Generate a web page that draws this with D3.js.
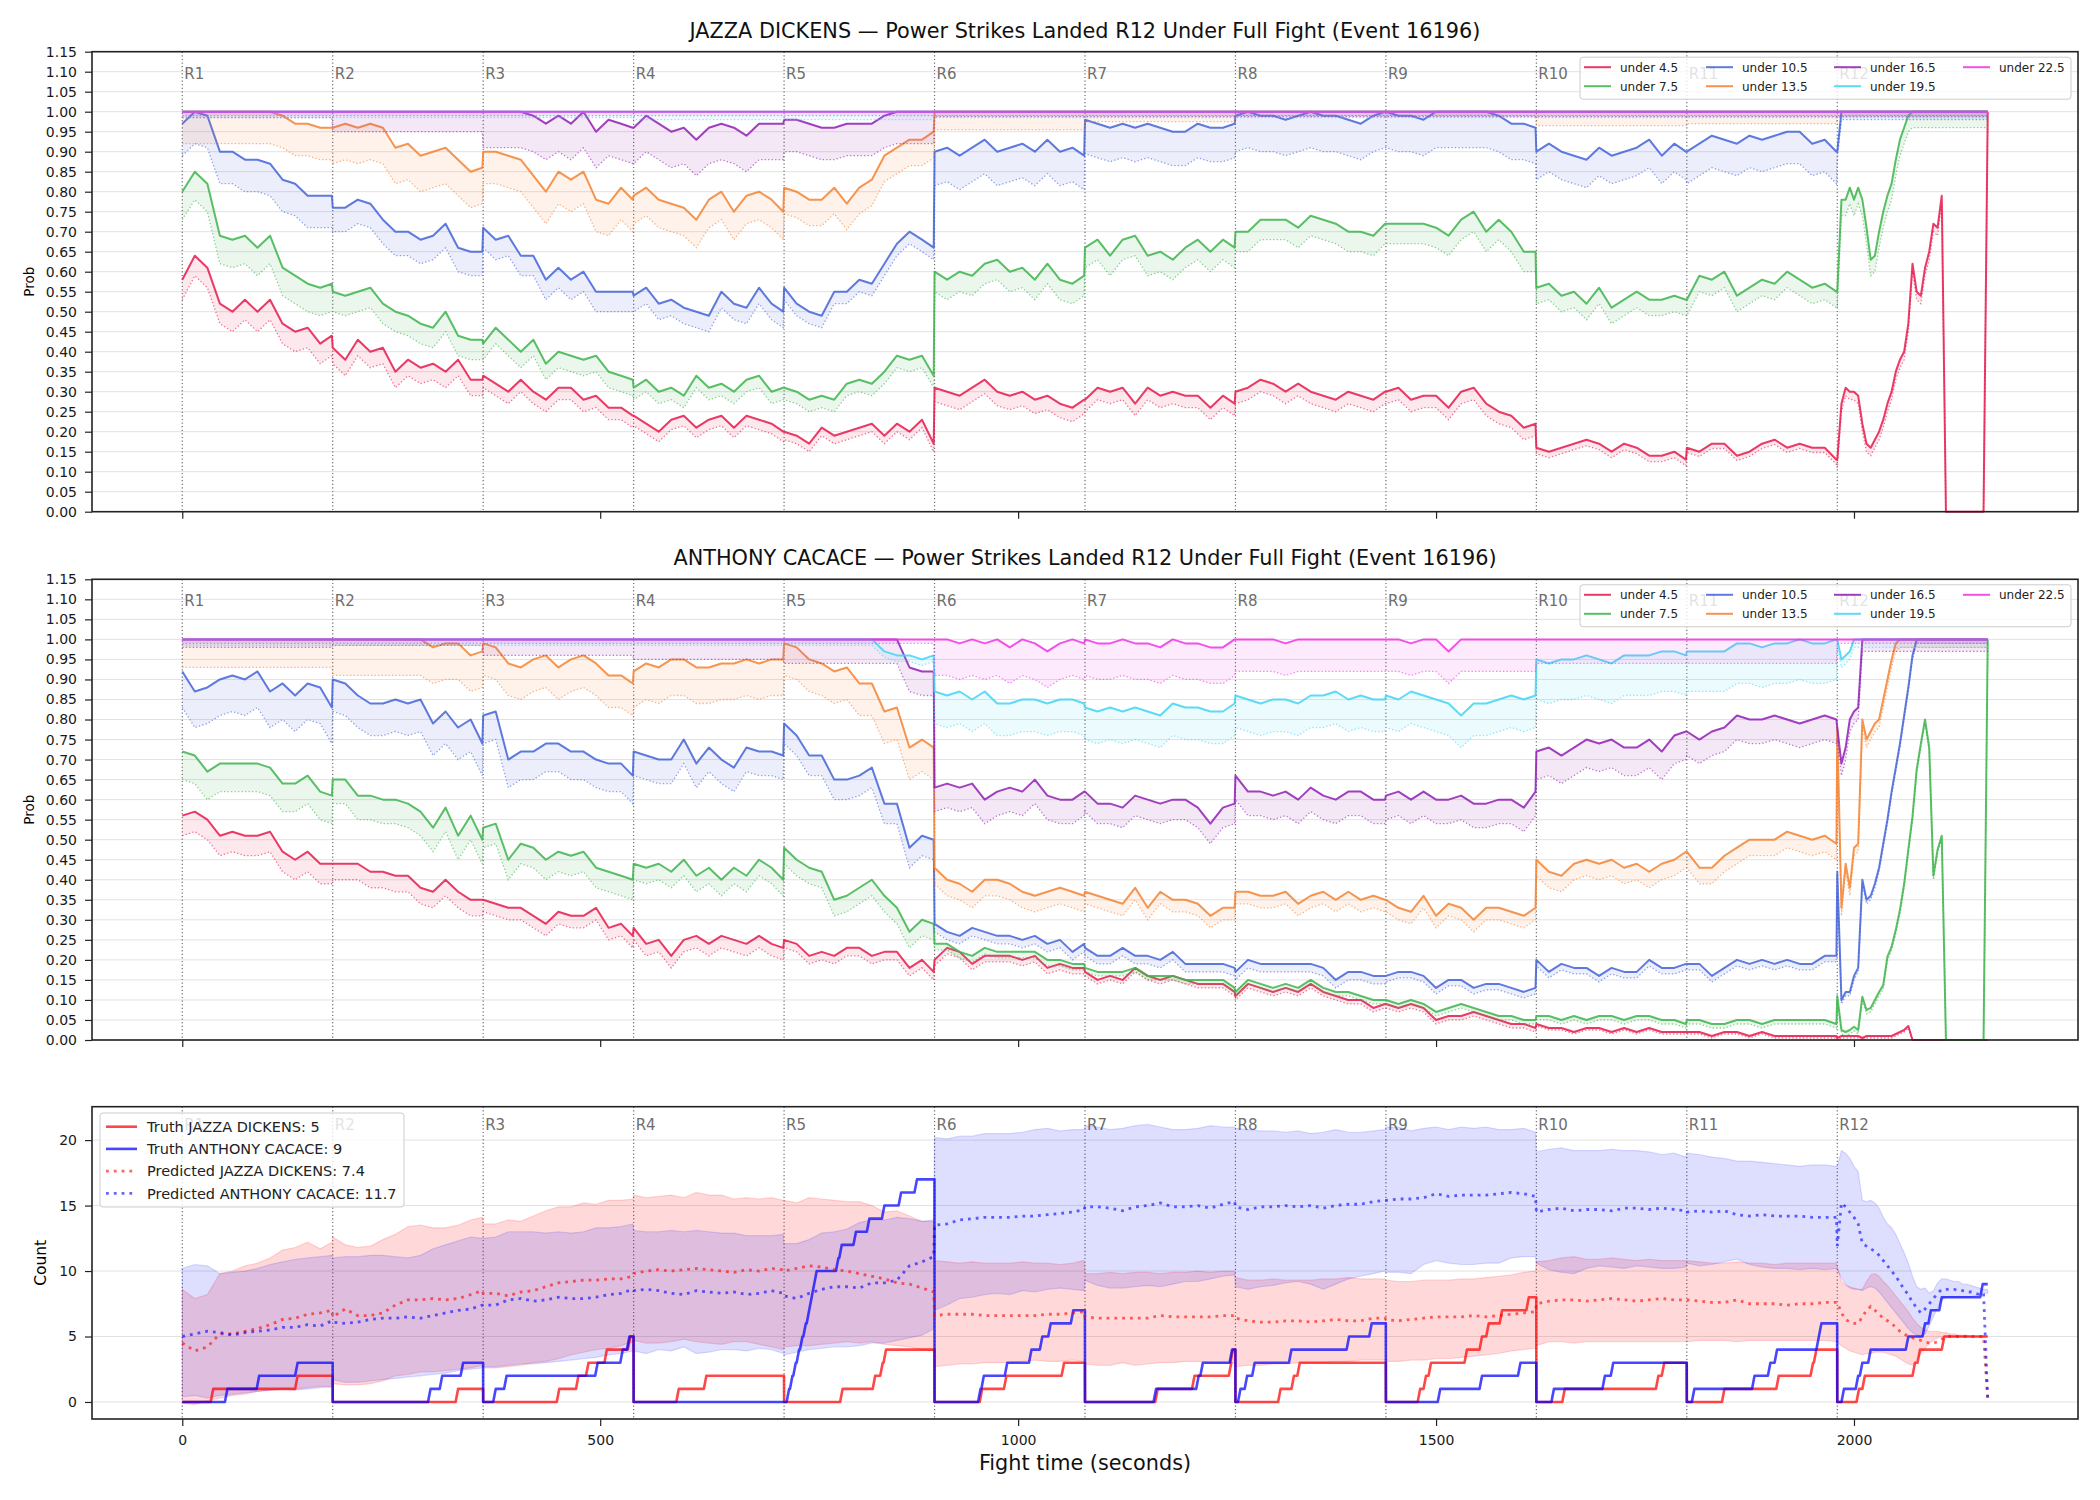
<!DOCTYPE html>
<html>
<head>
<meta charset="utf-8">
<script src="https://cdn.jsdelivr.net/npm/d3@7"></script>
<style>
  body { margin: 0; background: #fff; }
  text { font-family: "DejaVu Sans", sans-serif; }
</style>
</head>
<body>
<script>
// ---- sampling grid: rounds 1-11 every 15 s (+ last second), round 12 every 5 s
var roundLen = 180;
var roundOffsets = [0, 15, 30, 45, 60, 75, 90, 105, 120, 135, 150, 165, 179];
var lastRoundOffsets = [0,5,10,15,20,25,30,35,40,45,50,55,60,65,70,75,80,85,90,95,100,105,110,115,120,125,130,135,140,145,150,155,160,165,170,175,180];
var roundNames = ["R1","R2","R3","R4","R5","R6","R7","R8","R9","R10","R11","R12"];

var lineNames = ["under 4.5", "under 7.5", "under 10.5", "under 13.5", "under 16.5", "under 19.5", "under 22.5"];
var lineColors = ["#e6194b", "#3cb44b", "#4363d8", "#f58231", "#911eb4", "#42d4f4", "#f032e6"];

// ---- JAZZA DICKENS panel, solid lines (percent), one row per round
var dkRed = [
 [58,64,61,52,50,53,50,53,47,45,46,42,44],
 [41,38,43,40,41,35,38,36,37,35,38,33,33],
 [34,32,30,33,30,28,31,31,28,29,26,26,24],
 [24,22,20,23,24,21,23,24,21,24,23,22,20],
 [20,19,17,21,19,20,21,22,19,22,20,23,17],
 [31,30,29,31,33,30,29,30,28,29,27,26,28],
 [28,31,30,31,27,31,29,30,29,29,26,29,27],
 [30,31,33,32,30,32,30,29,28,30,29,28,30],
 [30,31,28,29,29,26,30,31,27,25,24,21,22],
 [16,15,16,17,18,17,15,17,16,14,14,15,13],
 [16,15,17,17,14,15,17,18,16,17,16,16,13],
 [13,27,31,30,30,29,22,17,16,18,20,23,27,30,35,38,40,47,62,55,54,61,65,72,71,79,0,0,0,0,0,0,0,0,0,0,100]
];
var dkGreen = [
 [80,85,82,69,68,69,66,69,61,59,57,56,57],
 [55,54,55,56,52,50,49,47,46,50,44,43,43],
 [42,46,43,40,43,37,40,39,38,39,35,34,33],
 [31,33,30,31,29,34,31,32,30,33,34,30,31],
 [31,30,28,29,28,32,33,32,35,39,38,39,34],
 [60,58,60,59,62,63,60,61,58,62,58,57,59],
 [66,68,64,68,69,64,65,63,66,68,65,68,66],
 [70,70,73,73,73,71,74,73,72,70,70,69,72],
 [72,72,72,72,71,69,73,75,70,73,70,65,65],
 [56,57,54,55,52,56,51,53,55,53,53,54,53],
 [53,59,58,60,54,56,58,57,60,58,56,57,55],
 [55,78,78,81,78,81,78,71,63,64,70,75,79,82,88,93,96,99,100,100,100,100,100,100,100,100,100,100,100,100,100,100,100,100,100,100,100]
];
var dkBlue = [
 [97,100,99,90,90,88,88,87,83,82,79,79,79],
 [76,76,78,77,73,70,70,68,69,72,66,65,65],
 [71,68,69,64,64,58,61,58,60,55,55,55,55],
 [54,56,52,53,51,50,49,55,52,51,56,52,50],
 [56,52,50,49,55,55,58,57,62,67,70,68,66],
 [90,91,89,91,93,90,91,92,90,93,90,91,89],
 [98,97,96,97,96,97,96,95,95,97,96,96,97],
 [99,100,99,99,98,99,100,99,99,98,97,99,100],
 [100,99,99,98,100,100,100,100,100,99,97,97,96],
 [90,92,90,89,88,91,89,90,91,93,89,92,90],
 [90,92,94,93,92,94,93,94,95,95,92,93,90],
 [90,100,100,100,100,100,100,100,100,100,100,100,100,100,100,100,100,100,100,100,100,100,100,100,100,100,100,100,100,100,100,100,100,100,100,100,100]
];
var dkOrange = [
 [100,100,100,100,100,100,100,100,99,97,97,96,96],
 [96,97,96,97,96,91,92,89,90,91,88,85,86],
 [90,90,89,88,84,80,85,83,85,78,77,81,78],
 [79,81,78,77,76,73,78,80,75,79,80,78,75],
 [81,80,78,78,81,77,81,83,89,91,93,93,95],
 [100,100,100,100,100,100,100,100,100,100,100,100,100],
 [100,100,100,100,100,100,100,100,100,100,100,100,100],
 [100,100,100,100,100,100,100,100,100,100,100,100,100],
 [100,100,100,100,100,100,100,100,100,100,100,100,100],
 [100,100,100,100,100,100,100,100,100,100,100,100,100],
 [100,100,100,100,100,100,100,100,100,100,100,100,100],
 [100,100,100,100,100,100,100,100,100,100,100,100,100,100,100,100,100,100,100,100,100,100,100,100,100,100,100,100,100,100,100,100,100,100,100,100,100]
];
var dkPurple = [
 [100,100,100,100,100,100,100,100,100,100,100,100,100],
 [100,100,100,100,100,100,100,100,100,100,100,100,100],
 [100,100,100,100,99,97,99,97,100,95,98,97,96],
 [96,99,97,95,96,93,96,97,96,94,97,97,97],
 [98,98,97,96,96,97,97,97,99,100,100,100,100],
 [100,100,100,100,100,100,100,100,100,100,100,100,100],
 [100,100,100,100,100,100,100,100,100,100,100,100,100],
 [100,100,100,100,100,100,100,100,100,100,100,100,100],
 [100,100,100,100,100,100,100,100,100,100,100,100,100],
 [100,100,100,100,100,100,100,100,100,100,100,100,100],
 [100,100,100,100,100,100,100,100,100,100,100,100,100],
 [100,100,100,100,100,100,100,100,100,100,100,100,100,100,100,100,100,100,100,100,100,100,100,100,100,100,100,100,100,100,100,100,100,100,100,100,100]
];
var dkCyan = [
 [100,100,100,100,100,100,100,100,100,100,100,100,100],
 [100,100,100,100,100,100,100,100,100,100,100,100,100],
 [100,100,100,100,100,100,100,100,100,100,100,100,100],
 [100,100,100,100,100,100,100,100,100,100,100,100,100],
 [100,100,100,100,100,100,100,100,100,100,100,100,100],
 [100,100,100,100,100,100,100,100,100,100,100,100,100],
 [100,100,100,100,100,100,100,100,100,100,100,100,100],
 [100,100,100,100,100,100,100,100,100,100,100,100,100],
 [100,100,100,100,100,100,100,100,100,100,100,100,100],
 [100,100,100,100,100,100,100,100,100,100,100,100,100],
 [100,100,100,100,100,100,100,100,100,100,100,100,100],
 [100,100,100,100,100,100,100,100,100,100,100,100,100,100,100,100,100,100,100,100,100,100,100,100,100,100,100,100,100,100,100,100,100,100,100,100,100]
];
var dkMagenta = dkCyan.map(function (r) { return r.slice(); }); // also flat at 1.0 all fight

// gap between solid line and its dotted partner, percent points per round
var dkGaps = [
 [5,4,3,2.5,2,3.5,3,3,3,1.5,1.2,2],
 [7,5,4,3,3,5,5,5,5,4,4,4],
 [8,6,5,4,3,8.5,8.5,9,9,7,8,2],
 [8,9,8,7,6.5,4.5,2.5,1,1,3.5,3,1],
 [1.5,5,9,9,8,1.2,1.2,1.2,1.2,1.2,1.2,1.2],
 [1.5,1.5,1.5,2,2,1.5,1.5,1.5,1.5,1.5,1.5,1.5],
 [1,1,1,1,1,1,1,1,1,1,1,1]
];

// ---- ANTHONY CACACE panel
var acRed = [
 [56,57,55,51,52,51,51,52,47,45,47,44,44],
 [44,44,44,42,42,41,41,38,37,40,37,35,35],
 [35,34,33,33,31,29,32,31,31,33,28,29,26],
 [28,24,25,21,25,26,24,26,25,24,26,24,23],
 [25,24,21,22,21,23,23,21,22,22,18,20,17],
 [20,23,22,19,21,21,21,20,21,18,19,18,18],
 [17,15,16,15,18,16,15,16,15,14,14,14,12],
 [11,14,13,12,13,12,14,12,11,10,10,8,9],
 [9,8,9,8,5,6,6,7,6,5,4,4,3],
 [4,3,3,2,3,3,2,3,2,3,2,2,2],
 [2,2,1,2,2,1,2,1,1,1,1,1,1],
 [0.5,1,1,1,1,1,0.5,1,1,1,1,1,1,1,1.5,2,2.5,3.5,0,0,0,0,0,0,0,0,0,0,0,0,0,0,0,0,0,0,0]
];
var acGreen = [
 [72,71,67,69,69,69,69,68,64,64,66,62,61],
 [65,65,61,61,60,60,59,57,53,58,51,56,50],
 [53,54,45,49,48,45,47,46,47,43,42,41,40],
 [44,43,44,42,45,41,43,40,43,41,45,43,40],
 [48,45,43,42,35,36,38,40,36,33,27,30,29],
 [24,24,22,21,23,22,22,22,22,20,20,19,19],
 [18,17,17,17,18,16,16,16,15,15,15,15,13],
 [12,15,14,13,14,13,15,13,12,12,11,10,10],
 [10,9,10,9,7,8,9,8,7,6,6,5,5],
 [6,6,5,6,5,6,6,5,6,6,5,5,4],
 [5,5,4,4,5,5,4,5,5,5,5,5,4],
 [11,2.5,2,2.5,3.3,2.5,10.8,7.5,8,10,12,13.7,20.8,23.3,27.5,32.5,39,47.5,55.8,67.5,74,80,73,41,47.5,51,0,0,0,0,0,0,0,0,0,0,100]
];
var acBlue = [
 [92,87,88,90,91,90,92,87,89,86,89,88,83],
 [90,89,86,84,84,85,84,85,79,82,78,80,74],
 [81,82,70,72,72,74,74,72,72,70,69,69,66],
 [72,71,70,70,75,69,73,70,68,73,72,72,71],
 [79,76,71,71,65,65,66,68,59,59,48,51,50],
 [29,27,26,28,27,26,26,25,26,24,25,22,24],
 [23,21,21,23,21,21,20,22,19,19,19,19,18],
 [17,20,19,19,19,19,19,18,15,17,17,16,16],
 [16,17,17,16,13,15,15,13,14,14,13,12,13],
 [20,17,19,18,18,16,18,17,17,20,18,18,19],
 [19,19,16,18,20,19,20,19,20,19,19,21,21],
 [42,10,12,12,16,18,40,35,36,39,43,49,55,62,68,74,81,88,96,100,100,100,100,100,100,100,100,100,100,100,100,100,100,100,100,100,100]
];
var acOrange = [
 [100,100,100,100,100,100,100,100,100,100,100,100,100],
 [100,100,100,100,100,100,100,100,98,99,99,96,97],
 [99,98,94,93,95,96,93,95,96,94,91,91,89],
 [92,94,93,95,95,93,93,94,94,95,94,95,95],
 [99,98,95,94,92,93,89,89,82,83,73,75,73],
 [43,40,39,37,40,40,39,37,36,37,38,37,36],
 [37,36,35,34,38,33,37,35,35,34,31,33,33],
 [37,37,36,36,37,34,36,37,35,37,35,36,35],
 [35,33,32,36,31,34,33,30,33,33,32,31,33],
 [45,42,41,44,45,44,45,43,44,42,44,45,47],
 [47,43,43,46,48,50,50,50,52,51,50,51,49],
 [78,33,44,38,48,49,80,75,77,79,80,85,90,95,99,100,100,100,100,100,100,100,100,100,100,100,100,100,100,100,100,100,100,100,100,100,100]
];
var acPurple = [
 [100,100,100,100,100,100,100,100,100,100,100,100,100],
 [100,100,100,100,100,100,100,100,100,100,100,100,100],
 [100,100,100,100,100,100,100,100,100,100,100,100,100],
 [100,100,100,100,100,100,100,100,100,100,100,100,100],
 [100,100,100,100,100,100,100,100,100,100,93,92,92],
 [63,64,63,64,60,62,63,62,65,61,60,60,62],
 [62,59,59,58,61,60,59,60,60,58,54,58,59],
 [66,62,62,61,62,60,63,61,60,62,62,60,60],
 [61,62,60,62,60,60,61,59,59,60,60,58,62],
 [72,73,71,73,75,74,75,73,73,75,72,76,77],
 [77,75,77,78,81,80,80,81,80,79,80,81,80],
 [78,69,73,80,82,83,100,100,100,100,100,100,100,100,100,100,100,100,100,100,100,100,100,100,100,100,100,100,100,100,100,100,100,100,100,100,100]
];
var acCyan = [
 [100,100,100,100,100,100,100,100,100,100,100,100,100],
 [100,100,100,100,100,100,100,100,100,100,100,100,100],
 [100,100,100,100,100,100,100,100,100,100,100,100,100],
 [100,100,100,100,100,100,100,100,100,100,100,100,100],
 [100,100,100,100,100,100,100,100,97,96,96,95,96],
 [87,86,87,85,87,84,84,85,85,84,85,85,84],
 [83,82,83,82,83,82,81,84,83,83,82,82,84],
 [86,85,84,85,85,84,86,86,87,85,86,85,85],
 [86,85,87,86,85,84,81,84,84,85,86,85,86],
 [95,94,95,95,96,95,94,96,96,96,97,97,96],
 [97,97,97,97,99,99,98,99,99,100,99,99,100],
 [100,95,96,97,100,100,100,100,100,100,100,100,100,100,100,100,100,100,100,100,100,100,100,100,100,100,100,100,100,100,100,100,100,100,100,100,100]
];
var acMagenta = [
 [100,100,100,100,100,100,100,100,100,100,100,100,100],
 [100,100,100,100,100,100,100,100,100,100,100,100,100],
 [100,100,100,100,100,100,100,100,100,100,100,100,100],
 [100,100,100,100,100,100,100,100,100,100,100,100,100],
 [100,100,100,100,100,100,100,100,100,100,100,100,100],
 [100,100,99,100,99,100,98,100,99,97,99,100,99],
 [100,99,99,100,99,99,98,100,99,99,98,98,100],
 [100,100,100,100,99,100,100,100,100,100,100,100,100],
 [100,100,99,100,100,97,100,100,100,100,100,100,100],
 [100,100,100,100,100,100,100,100,100,100,100,100,100],
 [100,100,100,100,100,100,100,100,100,100,100,100,100],
 [100,100,100,100,100,100,100,100,100,100,100,100,100,100,100,100,100,100,100,100,100,100,100,100,100,100,100,100,100,100,100,100,100,100,100,100,100]
];
var acGaps = [
 [5,4,3,3,2,1.5,1,1,1,0.5,0.5,0.5],
 [7,6,5,4,4,1.5,1,1,1,1,1,1],
 [9,8,7,6,5,2,2,2,1.5,1.5,1.5,1],
 [7,9,8,9,8,4,3,3,3,4,4,2],
 [2,1.5,4,5,6,6,5,6,6,7,6,3],
 [1.5,1.5,1.5,1.5,1.5,8,8,8,8,10,10,2],
 [1,1,1,1,1,9,9,8,8,6,6,1]
];

// ---- count panel: predicted totals and their bands
var dkPred = [
 [4.5,3.9,4.2,5.2,5.2,5.4,5.6,5.9,6.3,6.4,6.7,6.8,7.0],
 [6.5,7.1,6.6,6.6,6.8,7.4,7.8,7.8,7.9,7.8,7.9,8.2,8.5],
 [8.3,8.3,8.1,8.4,8.5,8.8,9.1,9.2,9.3,9.3,9.4,9.4,9.6],
 [9.8,10.0,10.1,10.0,10.1,10.2,10.1,10.0,9.9,10.1,10.0,10.2,10.1],
 [10.0,10.2,10.4,10.3,10.1,10.0,9.8,9.6,9.4,9.1,9.0,8.7,8.4],
 [6.6,6.7,6.7,6.7,6.6,6.6,6.6,6.6,6.6,6.7,6.7,6.8,6.9],
 [6.5,6.4,6.4,6.4,6.4,6.4,6.6,6.5,6.5,6.5,6.5,6.6,6.6],
 [6.4,6.2,6.1,6.1,6.2,6.2,6.1,6.2,6.3,6.2,6.2,6.4,6.4],
 [6.3,6.2,6.3,6.4,6.5,6.5,6.5,6.6,6.5,6.6,6.7,6.8,6.9],
 [7.5,7.7,7.8,7.8,7.7,7.8,7.9,7.8,7.7,7.8,7.9,7.8,7.8],
 [7.8,7.7,7.6,7.6,7.8,7.5,7.5,7.5,7.4,7.5,7.5,7.6,7.6],
 [7.6,6.8,6.3,6.1,6.0,6.0,6.5,7.0,7.3,7.0,6.7,6.4,6.2,6.0,5.7,5.4,5.2,5.0,4.9,4.8,4.7,4.6,4.5,4.5,4.6,4.8,5.0,5.0,5.0,5.0,5.0,5.0,5.0,5.0,5.0,5.0,0.2]
];
var dkHi = [
 [8.6,7.9,8.2,9.8,10.0,10.4,10.6,11.0,11.6,11.8,12.2,11.7,12.2],
 [12.6,12.0,11.8,11.9,12.4,12.8,13.4,13.5,13.3,13.3,13.5,13.9,14.1],
 [13.6,13.6,13.9,13.8,14.2,14.6,14.9,14.9,15.2,15.1,15.4,15.4,15.5],
 [15.8,15.6,15.7,15.8,15.6,16.0,15.8,15.8,15.5,15.6,15.5,15.6,15.4],
 [15.4,15.2,15.6,15.5,15.4,15.3,15.3,15.0,14.5,14.6,14.2,13.8,13.8],
 [10.8,10.7,10.6,10.7,10.6,10.6,10.6,10.7,10.6,10.6,10.5,10.6,10.8],
 [9.8,9.8,9.9,9.8,9.9,9.9,9.8,9.9,9.9,10.0,9.9,10.0,10.0],
 [9.5,9.3,9.3,9.4,9.3,9.3,9.3,9.4,9.4,9.5,9.4,9.4,9.4],
 [9.3,9.2,9.2,9.3,9.3,9.3,9.4,9.4,9.5,9.6,9.7,9.9,10.0],
 [10.7,10.8,11.0,11.1,10.9,10.9,11.0,10.9,10.8,10.9,10.8,10.8,10.8],
 [10.8,10.7,10.6,10.6,10.7,10.6,10.6,10.5,10.6,10.6,10.6,10.6,10.6],
 [10.4,9.2,8.9,8.8,8.7,8.6,8.6,9.2,9.7,9.8,9.6,9.2,8.9,8.5,8.1,7.7,7.3,6.9,6.4,6.0,5.7,5.5,5.4,5.4,5.4,5.3,5.3,5.2,5.2,5.1,5.1,5.1,5.0,5.0,5.0,5.0,5.0]
];
var dkLo = [
 [-0.1,-0.2,0.1,0.3,0.5,0.6,0.8,0.9,1.0,1.0,1.1,1.2,1.1],
 [1.4,1.3,1.3,1.4,1.6,2.0,2.1,2.3,2.3,2.4,2.5,2.6,2.8],
 [2.6,2.6,2.7,2.8,3.0,3.1,3.3,3.6,3.8,4.0,4.1,4.3,4.6],
 [4.7,4.5,4.5,4.6,4.8,4.6,4.5,4.4,4.6,4.6,4.4,4.2,4.0],
 [4.2,4.3,4.3,4.4,4.5,4.6,4.5,4.6,4.4,4.3,4.2,4.0,3.9],
 [2.7,2.8,2.9,2.9,3.0,3.0,3.0,3.1,3.2,3.1,3.1,3.2,3.1],
 [2.9,2.8,2.8,3.0,2.8,2.9,3.0,3.0,3.1,3.1,3.0,3.0,3.0],
 [2.7,2.8,2.8,2.9,2.9,3.0,3.0,3.0,3.1,3.1,3.2,3.2,3.2],
 [3.1,3.1,3.2,3.2,3.3,3.3,3.4,3.5,3.6,3.7,3.9,4.0,4.1],
 [4.3,4.6,4.6,4.5,4.6,4.6,4.6,4.6,4.6,4.6,4.6,4.6,4.6],
 [4.6,4.7,4.7,4.7,4.6,4.7,4.7,4.7,4.7,4.7,4.7,4.7,4.6],
 [4.6,4.3,4.1,3.9,3.8,3.7,3.6,3.7,3.7,3.8,3.8,3.8,3.7,3.6,3.5,3.3,3.1,2.9,2.8,3.2,3.7,4.1,4.5,4.7,4.9,5.0,5.0,5.0,5.0,5.0,5.0,5.0,5.0,5.0,5.0,5.0,5.0]
];
var acPred = [
 [5.0,5.2,5.4,5.3,5.1,5.3,5.4,5.5,5.7,5.7,5.9,5.8,6.2],
 [6.1,6.0,6.1,6.3,6.4,6.4,6.5,6.4,6.6,6.8,7.0,7.1,7.4],
 [7.4,7.4,7.8,7.9,7.7,7.8,8.0,7.9,7.9,8.0,8.2,8.3,8.6],
 [8.5,8.6,8.5,8.3,8.2,8.5,8.4,8.3,8.4,8.2,8.3,8.5,8.3],
 [8.1,7.9,8.3,8.6,8.8,8.8,8.7,9.1,9.1,9.3,10.4,10.7,11.1],
 [13.5,13.6,13.9,14.0,14.1,14.1,14.1,14.2,14.2,14.3,14.4,14.5,14.7],
 [14.9,14.9,14.8,14.6,14.9,15.0,15.2,14.9,14.9,15.0,14.8,15.1,15.3],
 [14.9,14.7,14.9,14.9,15.0,14.9,15.0,14.8,15.0,15.1,15.1,15.3,15.4],
 [15.4,15.5,15.5,15.6,15.9,15.7,15.8,15.8,15.8,15.9,16.0,15.9,15.7],
 [14.5,14.7,14.8,14.6,14.7,14.7,14.6,14.8,14.8,14.7,14.8,14.7,14.6],
 [14.5,14.6,14.5,14.6,14.3,14.2,14.3,14.2,14.2,14.2,14.1,14.1,14.1],
 [11.9,15.2,14.9,14.5,14.1,13.6,12.1,11.9,11.7,11.5,11.2,10.8,10.4,10.0,9.6,9.1,8.6,8.2,7.6,7.2,6.8,7.1,7.5,7.9,8.3,8.6,8.6,8.6,8.6,8.5,8.5,8.4,8.4,8.3,8.2,8.3,0.2]
];
var acHi = [
 [10.2,10.5,10.4,9.8,9.9,10.0,10.2,10.5,10.7,10.9,11.0,11.1,11.2],
 [11.0,11.1,11.1,11.2,11.2,11.1,11.0,11.2,11.7,12.0,12.3,12.6,12.5],
 [12.5,12.6,13.0,13.0,13.0,12.9,13.0,12.9,13.0,13.3,13.3,13.4,13.6],
 [13.1,13.0,13.0,13.1,13.0,13.1,13.0,12.9,12.9,12.7,12.7,12.7,12.8],
 [12.1,12.1,12.4,12.9,13.0,13.2,13.7,13.9,13.9,14.1,14.0,13.8,13.9],
 [20.2,20.1,20.3,20.3,20.5,20.5,20.5,20.6,20.8,20.9,20.7,20.8,20.8],
 [21.1,21.0,20.8,20.9,21.1,21.2,21.0,20.8,20.8,20.9,21.1,21.0,21.0],
 [20.9,20.8,20.7,20.7,20.6,20.7,20.5,20.6,20.8,20.6,20.6,20.7,20.8],
 [21.0,21.0,20.7,20.9,21.0,20.8,21.0,20.9,21.0,20.8,20.8,20.9,20.6],
 [19.1,19.3,19.4,19.2,19.2,19.2,19.3,19.2,19.2,19.1,18.9,19.0,18.7],
 [19.0,18.9,18.7,18.6,18.4,18.4,18.3,18.2,18.1,18.0,18.1,18.1,18.0],
 [18.0,19.2,19.0,18.6,18.0,17.6,15.4,15.3,15.4,15.2,14.8,14.1,13.6,13.3,12.8,12.1,11.4,10.6,9.6,8.8,8.6,8.7,8.3,8.5,9.1,9.4,9.4,9.3,9.2,9.2,9.0,9.0,8.9,8.8,8.7,8.6,8.6]
];
var acLo = [
 [0.4,0.5,0.3,0.5,0.6,0.7,0.8,0.9,1.0,0.9,1.0,1.1,1.2],
 [1.7,1.5,1.5,1.6,1.7,1.8,1.9,2.0,2.1,2.2,2.4,2.5,2.6],
 [2.7,2.7,2.8,2.9,2.9,3.0,3.1,3.2,3.3,3.4,3.6,3.7,3.9],
 [3.9,3.7,4.0,3.9,4.2,3.7,3.8,4.0,4.0,3.9,4.1,4.0,3.7],
 [3.6,3.8,4.0,4.1,4.2,4.2,4.3,4.5,4.5,4.7,4.9,5.1,5.6],
 [7.0,7.4,7.9,8.0,8.2,8.3,8.2,8.5,8.4,8.6,8.7,8.6,8.5],
 [9.3,8.9,8.7,8.7,8.8,8.9,8.8,9.0,9.2,9.2,9.4,9.6,9.7],
 [8.8,8.6,8.8,8.9,9.1,9.2,9.0,8.6,9.0,9.4,9.6,9.8,10.0],
 [9.9,9.9,9.8,10.5,10.8,10.6,10.5,10.5,10.6,10.6,11.0,11.1,11.1],
 [10.6,10.1,9.9,9.8,10.2,10.4,10.3,10.2,10.4,10.3,10.2,10.2,10.3],
 [10.6,10.4,10.5,10.7,10.9,10.5,10.3,10.2,10.2,10.1,10.2,10.1,10.2],
 [10.1,9.5,9.0,8.7,8.6,8.6,8.5,8.7,8.8,8.7,8.4,8.0,7.6,7.2,6.8,6.4,6.0,5.6,5.3,5.1,5.0,5.2,5.8,6.5,7.2,7.8,8.0,8.0,8.0,8.0,8.0,8.0,8.0,8.1,8.2,8.3,8.3]
];

// truth: times (s) at which each fighter landed a power strike, per round
var dkHits = [[37,138],[330],[451,474,486,508,536],[594,627],[790,829,838,842],
  [957,986,1055],[1167,1211,1255,1257],[1314,1330,1337],
  [1481,1488,1494,1537,1555,1563,1579,1611],[1654,1766,1773],[1845,1910,1951,1955],
  [2006,2013,2073,2079,2108]];
var acHits = [[54,92,138],[297,311,336],[375,388,497,527,535],[],
  [726,730,734,738,742,746,750,753,756,759,785,789,806,822,840,860,879],
  [955,959,987,1016,1029,1039,1066],[1165,1216,1221,1256],[1266,1274,1283,1327,1396,1423],
  [1505,1555,1601],[1641,1702,1712],[1809,1881,1900,1908,1958,1961],
  [1988,2005,2010,2020,2065,2085,2092,2105,2154]];

var countLegend = ["Truth JAZZA DICKENS: 5", "Truth ANTHONY CACACE: 9",
  "Predicted JAZZA DICKENS: 7.4", "Predicted ANTHONY CACACE: 11.7"];

// ---------------------------------------------------------------
var W = 2100, H = 1500;
var svg = d3.select("body").append("svg").attr("width", W).attr("height", H);
svg.append("rect").attr("width", W).attr("height", H).attr("fill", "#fff");

var times = [];
roundNames.forEach(function (n, r) {
  (r < 11 ? roundOffsets : lastRoundOffsets).forEach(function (o) { times.push(r * roundLen + o); });
});
function roundOf(j) { return j < 143 ? Math.floor(j / 13) : 11; }

var problems = [];
function flat(name, arr) {
  var f = [].concat.apply([], arr);
  if (f.length !== times.length) problems.push(name + ":" + f.length);
  return f;
}

var x = d3.scaleLinear().domain([-108, 2268]).range([92, 2078]);
var panels = [{ top: 51.7, bottom: 511.7 }, { top: 579.3, bottom: 1040 }, { top: 1106.7, bottom: 1419 }];
var roundStarts = roundNames.map(function (n, i) { return i * roundLen; });

function frameAndAxes(g, p, y, yTicks, fmt, showX) {
  g.append("g").attr("transform", "translate(" + x.range()[0] + ",0)")
    .call(d3.axisLeft(y).tickValues(yTicks).tickFormat(fmt).tickSize(7).tickPadding(8))
    .call(styleAxis);
  g.append("g").attr("transform", "translate(0," + p.bottom + ")")
    .call(d3.axisBottom(x).tickValues([0, 500, 1000, 1500, 2000])
      .tickFormat(showX ? d3.format("d") : "").tickSize(7).tickPadding(9))
    .call(styleAxis);
  g.append("rect").attr("x", x.range()[0]).attr("y", p.top)
    .attr("width", x.range()[1] - x.range()[0]).attr("height", p.bottom - p.top)
    .attr("fill", "none").attr("stroke", "#222").attr("stroke-width", 1.6);
}
function styleAxis(sel) {
  sel.select(".domain").remove();
  sel.selectAll(".tick line").attr("stroke", "#222").attr("stroke-width", 1.2);
  sel.selectAll(".tick text").attr("fill", "#1a1a1a").style("font-size", "14px")
    .style("font-family", "DejaVu Sans");
}
function gridAndRounds(g, p, y, yTicks, labelDy) {
  g.selectAll("line.grid").data(yTicks).join("line").attr("class", "grid")
    .attr("x1", x.range()[0]).attr("x2", x.range()[1])
    .attr("y1", function (d) { return y(d); }).attr("y2", function (d) { return y(d); })
    .attr("stroke", "#e2e2e2").attr("stroke-width", 1);
  g.selectAll("line.rnd").data(roundStarts).join("line").attr("class", "rnd")
    .attr("x1", function (d) { return x(d); }).attr("x2", function (d) { return x(d); })
    .attr("y1", p.top).attr("y2", p.bottom)
    .attr("stroke", "#555").attr("stroke-width", 1.2).attr("stroke-dasharray", "1.2,2.4")
    .attr("opacity", 0.85);
  g.selectAll("text.rnd").data(roundStarts).join("text").attr("class", "rnd")
    .attr("x", function (d) { return x(d) + 2; }).attr("y", p.top + labelDy)
    .attr("fill", "#6e6e6e").style("font-size", "15px")
    .text(function (d, i) { return roundNames[i]; });
}

var probTicks = d3.range(0, 24).map(function (i) { return i * 0.05; });

function probPanel(p, title, series, gaps, tag) {
  var g = svg.append("g");
  var y = d3.scaleLinear().domain([0, 1.15]).range([p.bottom, p.top]);
  gridAndRounds(g, p, y, probTicks, 27);
  series.forEach(function (s, i) {
    var vals = flat(tag + i, s);
    var pts = times.map(function (t, j) {
      var v = vals[j] / 100;
      var lo = Math.max(0, Math.min(v - gaps[i][roundOf(j)] / 100, 0.99));
      return { t: t, v: v, lo: lo };
    });
    g.append("path").datum(pts)
      .attr("d", d3.area().x(function (d) { return x(d.t); })
        .y0(function (d) { return y(d.lo); }).y1(function (d) { return y(d.v); }))
      .attr("fill", lineColors[i]).attr("opacity", 0.1);
    g.append("path").datum(pts)
      .attr("d", d3.line().x(function (d) { return x(d.t); }).y(function (d) { return y(d.lo); }))
      .attr("fill", "none").attr("stroke", lineColors[i]).attr("stroke-width", 1.3)
      .attr("stroke-dasharray", "1.3,2.2").attr("opacity", 0.6);
    g.append("path").datum(pts)
      .attr("d", d3.line().x(function (d) { return x(d.t); }).y(function (d) { return y(d.v); }))
      .attr("fill", "none").attr("stroke", lineColors[i]).attr("stroke-width", 2)
      .attr("stroke-linejoin", "round").attr("opacity", 0.85);
  });
  frameAndAxes(g, p, y, probTicks, d3.format(".2f"), false);
  g.append("text").attr("x", 1085).attr("y", p.top - 14).attr("text-anchor", "middle")
    .style("font-size", "20.8px").attr("fill", "#111").text(title);
  g.append("text").attr("transform", "translate(29," + (p.top + p.bottom) / 2 + ") rotate(-90)")
    .attr("text-anchor", "middle").attr("dy", "0.35em").style("font-size", "13.5px").text("Prob");

  // legend, 4 columns filled column-wise
  var lg = g.append("g");
  lg.append("rect").attr("x", 1580).attr("y", p.top + 5.5).attr("width", 491).attr("height", 42)
    .attr("rx", 3).attr("fill", "#fff").attr("fill-opacity", 0.8)
    .attr("stroke", "#cccccc").attr("stroke-width", 1);
  var colX = [1584, 1706, 1834, 1963];
  lineNames.forEach(function (n, i) {
    var cx = colX[Math.floor(i / 2)], cy = p.top + 15.5 + (i % 2) * 19;
    lg.append("line").attr("x1", cx).attr("x2", cx + 27).attr("y1", cy).attr("y2", cy)
      .attr("stroke", lineColors[i]).attr("stroke-width", 2).attr("opacity", 0.85);
    lg.append("text").attr("x", cx + 36).attr("y", cy).attr("dy", "0.36em")
      .style("font-size", "12px").attr("fill", "#222").text(n);
  });
}

probPanel(panels[0], "JAZZA DICKENS \u2014 Power Strikes Landed R12 Under Full Fight (Event 16196)",
  [dkRed, dkGreen, dkBlue, dkOrange, dkPurple, dkCyan, dkMagenta], dkGaps, "dk");
probPanel(panels[1], "ANTHONY CACACE \u2014 Power Strikes Landed R12 Under Full Fight (Event 16196)",
  [acRed, acGreen, acBlue, acOrange, acPurple, acCyan, acMagenta], acGaps, "ac");

// ---- count panel
(function () {
  var p = panels[2];
  var g = svg.append("g");
  var y = d3.scaleLinear().domain([-1.3, 22.55]).range([p.bottom, p.top]);
  var cTicks = [0, 5, 10, 15, 20];
  gridAndRounds(g, p, y, cTicks, 23.5);

  var bands = [
    { hi: flat("dkHi", dkHi), lo: flat("dkLo", dkLo), c: "#ff0000", a: 0.15 },
    { hi: flat("acHi", acHi), lo: flat("acLo", acLo), c: "#0000ff", a: 0.13 }
  ];
  bands.forEach(function (b) {
    var pts = times.map(function (t, j) { return { t: t, hi: b.hi[j], lo: b.lo[j] }; });
    g.append("path").datum(pts)
      .attr("d", d3.area().x(function (d) { return x(d.t); })
        .y0(function (d) { return y(d.lo); }).y1(function (d) { return y(d.hi); }))
      .attr("fill", b.c).attr("fill-opacity", b.a)
      .attr("stroke", b.c).attr("stroke-opacity", b.a).attr("stroke-width", 1.2);
  });

  // cumulative count inside each round; each strike rises over ~3 s like the sampled source
  function truthPoints(hits) {
    var pts = [];
    hits.forEach(function (h, r) {
      var s = r * roundLen, c = 0;
      pts.push([s, 0]);
      h.forEach(function (t) { pts.push([t - 3, c]); c += 1; pts.push([t, c]); });
      pts.push([r === 11 ? 2160 : s + 179.9, c]);
    });
    return pts;
  }
  var truthLine = d3.line()
    .x(function (d) { return x(d[0]); }).y(function (d) { return y(d[1]); });
  [[dkHits, "#ff0000"], [acHits, "#0000ff"]].forEach(function (s) {
    g.append("path").datum(truthPoints(s[0])).attr("d", truthLine)
      .attr("fill", "none").attr("stroke", s[1]).attr("stroke-width", 2.6)
      .attr("stroke-linejoin", "round").attr("stroke-opacity", 0.72);
  });

  [[flat("dkPred", dkPred), "#ff0000"], [flat("acPred", acPred), "#0000ff"]].forEach(function (s) {
    var pts = times.map(function (t, j) { return [t, s[0][j]]; });
    g.append("path").datum(pts)
      .attr("d", d3.line().x(function (d) { return x(d[0]); }).y(function (d) { return y(d[1]); }))
      .attr("fill", "none").attr("stroke", s[1]).attr("stroke-width", 2.8)
      .attr("stroke-dasharray", "2.8,5").attr("stroke-opacity", 0.6);
  });

  frameAndAxes(g, p, y, cTicks, d3.format("d"), true);
  g.append("text").attr("transform", "translate(41," + (p.top + p.bottom) / 2 + ") rotate(-90)")
    .attr("text-anchor", "middle").attr("dy", "0.35em").style("font-size", "15.5px").text("Count");
  g.append("text").attr("x", 1085).attr("y", 1470).attr("text-anchor", "middle")
    .style("font-size", "20.8px").attr("fill", "#111").text("Fight time (seconds)");

  var lg = g.append("g");
  lg.append("rect").attr("x", 100).attr("y", 1113).attr("width", 304).attr("height", 94)
    .attr("rx", 3).attr("fill", "#fff").attr("fill-opacity", 0.8)
    .attr("stroke", "#cccccc").attr("stroke-width", 1);
  var lgStyle = [["#ff0000", 2.6, null, 0.72], ["#0000ff", 2.6, null, 0.72],
    ["#ff0000", 2.8, "2.8,5", 0.6], ["#0000ff", 2.8, "2.8,5", 0.6]];
  countLegend.forEach(function (n, i) {
    var cy = 1126.7 + i * 22.2;
    lg.append("line").attr("x1", 106).attr("x2", 137).attr("y1", cy).attr("y2", cy)
      .attr("stroke", lgStyle[i][0]).attr("stroke-width", lgStyle[i][1])
      .attr("stroke-dasharray", lgStyle[i][2]).attr("stroke-opacity", lgStyle[i][3]);
    lg.append("text").attr("x", 147).attr("y", cy).attr("dy", "0.36em")
      .style("font-size", "14.5px").attr("fill", "#222").text(n);
  });
})();

if (problems.length) {
  svg.append("text").attr("x", 20).attr("y", 1495).attr("fill", "red")
    .style("font-size", "16px").text("length mismatch: " + problems.join(" "));
}
</script>
</body>
</html>
